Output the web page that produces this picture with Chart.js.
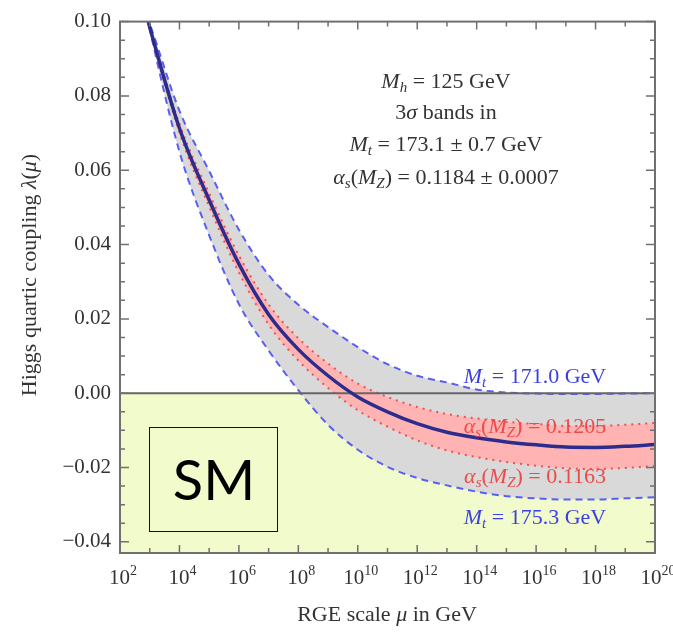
<!DOCTYPE html>
<html>
<head>
<meta charset="utf-8">
<script src="https://cdn.jsdelivr.net/npm/chart.js@4.4.0/dist/chart.umd.min.js"></script>
<style>
  html, body { margin: 0; padding: 0; background: #fff; }
</style>
</head>
<body>
<canvas id="myChart" width="673" height="632"></canvas>
<script>
// x = log10 of the RGE scale mu in GeV
const logMu = [2.9, 3, 4, 5, 6, 7, 8, 9, 10, 11, 12, 13, 14, 15, 16, 17, 18, 19, 20];
// central value, Mt = 173.1 GeV, alpha_s = 0.1184
const lambdaCentral = [0.1015, 0.0985, 0.0713, 0.0520, 0.0348, 0.0212, 0.0118, 0.0047, -0.0010, -0.0050, -0.0082, -0.0105, -0.0120, -0.0131, -0.0139, -0.0145, -0.0146, -0.0143, -0.0138];
// top mass 3 sigma edges
const lambdaMt171 = [0.1015, 0.0994, 0.0760, 0.0598, 0.0440, 0.0318, 0.0238, 0.0178, 0.0124, 0.0078, 0.0047, 0.0029, 0.0010, 0.0002, -0.0001, -0.0002, -0.0002, -0.0001, 0.0000];
const lambdaMt175 = [0.1018, 0.0980, 0.0650, 0.0425, 0.0240, 0.0115, 0.0008, -0.0085, -0.0152, -0.0198, -0.0228, -0.0248, -0.0265, -0.0277, -0.0283, -0.0286, -0.0286, -0.0283, -0.0280];
// alpha_s 3 sigma edges
const lambdaAs1205 = [0.1015, 0.0988, 0.0725, 0.0538, 0.0371, 0.0239, 0.0148, 0.0080, 0.0026, -0.0010, -0.0037, -0.0056, -0.0068, -0.0077, -0.0083, -0.0088, -0.0088, -0.0085, -0.0080];
const lambdaAs1163 = [0.1015, 0.0982, 0.0701, 0.0502, 0.0325, 0.0185, 0.0088, 0.0014, -0.0046, -0.0090, -0.0127, -0.0154, -0.0172, -0.0185, -0.0195, -0.0202, -0.0204, -0.0201, -0.0196];

const xTickValues = [2, 4, 6, 8, 10, 12, 14, 16, 18, 20];
const xTickExponents = ['2', '4', '6', '8', '10', '12', '14', '16', '18', '20'];
const yTickValues = [-0.04, -0.02, 0, 0.02, 0.04, 0.06, 0.08, 0.10];
const yTickLabels = ['−0.04', '−0.02', '0.00', '0.02', '0.04', '0.06', '0.08', '0.10'];

const pts = vals => logMu.map((x, i) => ({x: x, y: vals[i]}));
const serif = '"Liberation Serif", "Times New Roman", serif';

// draws a line of text with italic / subscript / superscript pieces, centred on cx
function richText(ctx, parts, cx, cy, size, color) {
    const small = s => s.includes('s') || s.includes('u');
    const fontFor = s => (s.includes('i') ? 'italic ' : '') + (small(s) ? Math.round(size * 0.68) : size) + 'px ' + serif;
    let w = 0;
    parts.forEach(([t, s]) => { ctx.font = fontFor(s); w += ctx.measureText(t).width; });
    let xx = cx - w / 2;
    ctx.fillStyle = color;
    ctx.textAlign = 'left';
    ctx.textBaseline = 'middle';
    parts.forEach(([t, s]) => {
        ctx.font = fontFor(s);
        let dy = 0;
        if (s.includes('s')) dy = size * 0.28;
        if (s.includes('u')) dy = -size * 0.33;
        ctx.fillText(t, xx, cy + dy);
        xx += ctx.measureText(t).width;
    });
}

const decorations = {
    id: 'decorations',
    afterDraw(chart) {
        const {ctx, chartArea: a, scales: {x, y}} = chart;
        ctx.save();

        // inward ticks on all four sides
        ctx.strokeStyle = '#707070';
        ctx.lineWidth = 1.5;
        ctx.beginPath();
        for (let d = 2; d <= 20; d++) {
            const px = x.getPixelForValue(d);
            const len = d % 2 === 0 ? 8 : 5;
            ctx.moveTo(px, a.bottom); ctx.lineTo(px, a.bottom - len);
            ctx.moveTo(px, a.top); ctx.lineTo(px, a.top + len);
        }
        for (let k = -8; k <= 20; k++) {
            const py = y.getPixelForValue(k * 0.005);
            const len = k % 4 === 0 ? 9 : 5;
            ctx.moveTo(a.left, py); ctx.lineTo(a.left + len, py);
            ctx.moveTo(a.right, py); ctx.lineTo(a.right - len, py);
        }
        ctx.stroke();
        ctx.lineWidth = 2;
        ctx.strokeRect(a.left, a.top, a.right - a.left, a.bottom - a.top);

        // x tick labels 10^n
        xTickValues.forEach((v, i) => {
            richText(ctx, [['10', ''], [xTickExponents[i], 'u']], x.getPixelForValue(v) + 3, a.bottom + 25, 21, '#333');
        });

        // SM box
        ctx.strokeStyle = '#111';
        ctx.lineWidth = 1;
        ctx.strokeRect(149.5, 427.5, 128, 104);
        ctx.fillStyle = '#000';
        ctx.font = '56px Lato, "Open Sans", sans-serif';
        ctx.textAlign = 'center';
        ctx.textBaseline = 'middle';
        ctx.fillText('SM', 214, 482);

        // info text
        const ink = '#333';
        richText(ctx, [['M', 'i'], ['h', 'is'], [' = 125 GeV', '']], 446, 82, 22, ink);
        richText(ctx, [['3', ''], ['σ', 'i'], [' bands in', '']], 446, 113, 22, ink);
        richText(ctx, [['M', 'i'], ['t', 'is'], [' = 173.1 ± 0.7 GeV', '']], 446, 145, 22, ink);
        richText(ctx, [['α', 'i'], ['s', 'is'], ['(', ''], ['M', 'i'], ['Z', 'is'], [') = 0.1184 ± 0.0007', '']], 446, 178, 22, ink);

        // curve labels
        const blue = '#3b3fe0', red = '#ee4a4a';
        richText(ctx, [['M', 'i'], ['t', 'is'], [' = 171.0 GeV', '']], 535, 377, 22, blue);
        richText(ctx, [['α', 'i'], ['s', 'is'], ['(', ''], ['M', 'i'], ['Z', 'is'], [') = 0.1205', '']], 535, 427, 22, red);
        richText(ctx, [['α', 'i'], ['s', 'is'], ['(', ''], ['M', 'i'], ['Z', 'is'], [') = 0.1163', '']], 535, 477, 22, red);
        richText(ctx, [['M', 'i'], ['t', 'is'], [' = 175.3 GeV', '']], 535, 518, 22, blue);

        // axis titles
        richText(ctx, [['RGE scale ', ''], ['μ', 'i'], [' in GeV', '']], 387, 615, 22, '#333');
        ctx.translate(30, 275);
        ctx.rotate(-Math.PI / 2);
        richText(ctx, [['Higgs quartic coupling ', ''], ['λ', 'i'], ['(', ''], ['μ', 'i'], [')', '']], 0, 0, 22, '#333');
        ctx.restore();
    }
};

new Chart(document.getElementById('myChart'), {
    type: 'line',
    data: {
        datasets: [
            { label: 'central', data: pts(lambdaCentral), borderColor: '#2c2c8c', borderWidth: 3.5, pointRadius: 0, cubicInterpolationMode: 'monotone', fill: false },
            { label: 'zero', data: [{x: 2, y: 0}, {x: 20, y: 0}], borderColor: '#666', borderWidth: 2, pointRadius: 0, fill: false },
            { label: 'as 0.1205', data: pts(lambdaAs1205), borderColor: '#f05050', borderWidth: 2, borderDash: [2, 5], pointRadius: 0, cubicInterpolationMode: 'monotone', fill: '+1', backgroundColor: '#ffb3b3' },
            { label: 'as 0.1163', data: pts(lambdaAs1163), borderColor: '#f05050', borderWidth: 2, borderDash: [2, 5], pointRadius: 0, cubicInterpolationMode: 'monotone', fill: false },
            { label: 'Mt 171.0', data: pts(lambdaMt171), borderColor: '#5a5ef2', borderWidth: 2, borderDash: [7, 5], pointRadius: 0, cubicInterpolationMode: 'monotone', fill: '+1', backgroundColor: '#d9d9d9' },
            { label: 'Mt 175.3', data: pts(lambdaMt175), borderColor: '#5a5ef2', borderWidth: 2, borderDash: [7, 5], pointRadius: 0, cubicInterpolationMode: 'monotone', fill: false },
            { label: 'unstable', data: [{x: 2, y: 0}, {x: 20, y: 0}], borderWidth: 0, borderColor: 'rgba(0,0,0,0)', pointRadius: 0, fill: {value: -0.05}, backgroundColor: '#f1fbcb' }
        ]
    },
    options: {
        responsive: false,
        animation: false,
        layout: { padding: { top: 21, right: 18, left: 0, bottom: 0 } },
        scales: {
            x: {
                type: 'linear',
                min: 2,
                max: 20,
                afterFit: s => { s.height = 79; },
                afterBuildTicks: s => { s.ticks = xTickValues.map(v => ({value: v})); },
                grid: { display: false, drawTicks: false },
                border: { display: false },
                ticks: { display: false }
            },
            y: {
                min: -0.043,
                max: 0.10,
                afterFit: s => { s.width = 120; },
                afterBuildTicks: s => { s.ticks = yTickValues.map(v => ({value: v})); },
                grid: { display: false, drawTicks: false },
                border: { display: false },
                ticks: {
                    padding: 9,
                    autoSkip: false,
                    color: '#333',
                    font: { family: serif, size: 21 },
                    callback: v => yTickLabels[yTickValues.indexOf(v)]
                }
            }
        },
        plugins: {
            legend: { display: false },
            tooltip: { enabled: false },
            filler: { drawTime: 'beforeDatasetsDraw' }
        }
    },
    plugins: [decorations]
});
</script>
</body>
</html>
